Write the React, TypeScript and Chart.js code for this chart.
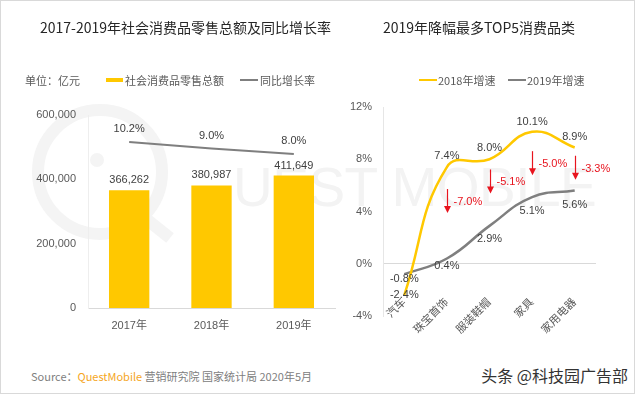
import React, { useEffect, useRef } from 'react';
import { Chart, registerables } from 'chart.js';

Chart.register(...registerables);

// ---------- data: left chart ----------
const years = ['2017年', '2018年', '2019年'];
const retailSales = [366262, 380987, 411649]; // 亿元
const growthRate = [10.2, 9.0, 8.0]; // %
const salesTicks = [0, 200000, 400000, 600000];

// ---------- data: right chart ----------
const categories = ['汽车', '珠宝首饰', '服装鞋帽', '家具', '家用电器'];
const growth2018 = [-2.4, 7.4, 8.0, 10.1, 8.9];
const growth2019 = [-0.8, 0.4, 2.9, 5.1, 5.6];
// value (in %) around which each red drop arrow is centred (null = no arrow)
const dropArrowAt: (number | null)[] = [null, 4.8, 6.3, 7.7, 7.35];
const pctTicks = [-4, 0, 4, 8, 12];

const NUM_FONT = "'Liberation Sans', 'Noto Sans CJK SC', sans-serif";
const CJK_FONT = "'Noto Sans CJK SC', 'Liberation Sans', sans-serif";
const YELLOW = '#FFC800';
const GREY = '#7F7F7F';
const RED = '#E8141E';

const leftLabels = {
  id: 'leftLabels',
  afterDatasetsDraw(chart: any) {
    const ctx = chart.ctx;
    ctx.save();
    ctx.font = `11px ${NUM_FONT}`;
    ctx.fillStyle = '#404040';
    ctx.textAlign = 'center';
    ctx.textBaseline = 'middle';
    chart.data.datasets.forEach((ds: any, di: number) => {
      const meta = chart.getDatasetMeta(di);
      meta.data.forEach((el: any, i: number) => {
        const v = ds.data[i];
        if (ds.type === 'line') ctx.fillText(v.toFixed(1) + '%', el.x, el.y - 13);
        else ctx.fillText(v.toLocaleString('en-US'), el.x, el.y - 10);
      });
    });
    ctx.restore();
  },
};

const rightLabels = {
  id: 'rightLabels',
  afterDatasetsDraw(chart: any, _args: any, opts: any) {
    const ctx = chart.ctx;
    const xs = chart.scales.x;
    const ys = chart.scales.y;
    ctx.save();
    ctx.font = `11px ${NUM_FONT}`;
    ctx.textAlign = 'center';
    ctx.textBaseline = 'middle';
    // point labels
    chart.data.datasets.forEach((ds: any, di: number) => {
      const meta = chart.getDatasetMeta(di);
      const offs = opts.offsets[di];
      ctx.fillStyle = '#404040';
      meta.data.forEach((el: any, i: number) => {
        ctx.fillText(ds.data[i].toFixed(1) + '%', el.x, el.y + offs[i]);
      });
    });
    // drop arrows
    ctx.strokeStyle = RED;
    ctx.fillStyle = RED;
    ctx.lineWidth = 1.2;
    dropArrowAt.forEach((v, i) => {
      if (v === null) return;
      const x = Math.round(xs.getPixelForValue(i)) + 0.5;
      const yc = ys.getPixelForValue(v);
      const top = yc - 12;
      const tip = yc + 12;
      ctx.beginPath();
      ctx.moveTo(x, top);
      ctx.lineTo(x, tip - 6);
      ctx.stroke();
      ctx.beginPath();
      ctx.moveTo(x - 3.5, tip - 7);
      ctx.lineTo(x + 3.5, tip - 7);
      ctx.lineTo(x, tip);
      ctx.closePath();
      ctx.fill();
      const diff = growth2019[i] - growth2018[i];
      ctx.textAlign = 'left';
      ctx.fillText(diff.toFixed(1) + '%', x + 6, yc + 1);
    });
    ctx.restore();
  },
};

const abs = (s: React.CSSProperties): React.CSSProperties => ({ position: 'absolute', whiteSpace: 'nowrap', ...s });

export default function App() {
  const leftRef = useRef<HTMLCanvasElement>(null);
  const rightRef = useRef<HTMLCanvasElement>(null);

  useEffect(() => {
    const c1 = new Chart(leftRef.current!, {
      type: 'bar',
      data: {
        labels: years,
        datasets: [
          {
            type: 'line',
            label: '同比增长率',
            data: growthRate,
            yAxisID: 'y1',
            borderColor: GREY,
            borderWidth: 2,
            pointRadius: 0,
            tension: 0,
            order: 0,
          } as any,
          {
            type: 'bar',
            label: '社会消费品零售总额',
            data: retailSales,
            yAxisID: 'y',
            backgroundColor: YELLOW,
            barPercentage: 0.49,
            categoryPercentage: 1,
            order: 1,
          } as any,
        ],
      },
      options: {
        animation: false,
        responsive: false,
        maintainAspectRatio: false,
        layout: { padding: { top: 115, right: 5, left: 0, bottom: 0 } },
        plugins: { legend: { display: false }, tooltip: { enabled: false } },
        scales: {
          x: {
            grid: { display: false, drawTicks: false },
            border: { color: '#D9D9D9' },
            ticks: { font: { size: 11, family: NUM_FONT }, color: '#595959', padding: 11, maxRotation: 0 },
            afterFit(s: any) { s.height = 32; },
          },
          y: {
            min: 0,
            max: 600000,
            afterBuildTicks(s: any) { s.ticks = salesTicks.map((v) => ({ value: v })); },
            grid: { display: false, drawTicks: false },
            border: { color: '#EEEEEE' },
            ticks: {
              font: { size: 11, family: NUM_FONT },
              color: '#595959',
              padding: 12,
              callback: (v: any) => Number(v).toLocaleString('en-US'),
            },
            afterFit(s: any) { s.width = 88; },
          },
          y1: { display: false, min: -20.2, max: 15.15 },
        },
      } as any,
      plugins: [leftLabels],
    });

    const c2 = new Chart(rightRef.current!, {
      type: 'line',
      data: {
        labels: categories,
        datasets: [
          {
            label: '2018年增速',
            data: growth2018,
            borderColor: YELLOW,
            borderWidth: 2.5,
            pointRadius: 0,
            tension: 0.45,
          },
          {
            label: '2019年增速',
            data: growth2019,
            borderColor: GREY,
            borderWidth: 2.5,
            pointRadius: 0,
            tension: 0.45,
          },
        ],
      },
      options: {
        animation: false,
        responsive: false,
        maintainAspectRatio: false,
        layout: { padding: { top: 107, right: 44, left: 0, bottom: 0 } },
        plugins: {
          legend: { display: false },
          tooltip: { enabled: false },
          rightLabels: { offsets: [[0, -11, -11, -10, -11], [5, 7, 13, 14, 14]] },
        } as any,
        scales: {
          x: {
            offset: true,
            grid: { display: false, drawTicks: false },
            border: { display: false },
            ticks: {
              font: { size: 11, family: NUM_FONT },
              color: '#595959',
              padding: -20,
              minRotation: 45,
              maxRotation: 45,
              autoSkip: false,
            },
            afterFit(s: any) {
              s.height = 24;
              // let the rotated labels rise into the plot area without being clipped
              s._computeLabelArea = () => undefined;
            },
          },
          y: {
            min: -4,
            max: 12,
            afterBuildTicks(s: any) { s.ticks = pctTicks.map((v) => ({ value: v })); },
            grid: {
              drawTicks: false,
              color: (c: any) => (c.tick && c.tick.value === 0 ? '#D9D9D9' : 'rgba(0,0,0,0)'),
            },
            border: { color: '#E6E6E6' },
            ticks: {
              font: { size: 11, family: NUM_FONT },
              color: '#595959',
              padding: 11,
              callback: (v: any) => v + '%',
            },
            afterFit(s: any) { s.width = 43; },
          },
        },
      } as any,
      plugins: [rightLabels],
    });

    return () => {
      c1.destroy();
      c2.destroy();
    };
  }, []);

  const legendText: React.CSSProperties = { fontFamily: CJK_FONT, fontSize: 11, color: '#595959', lineHeight: '16px' };

  return (
    <div style={{ position: 'absolute', left: 0, top: 0, width: 640, height: 396, background: '#fff', overflow: 'hidden' }}>
      {/* watermark */}
      <svg width={640} height={396} style={{ position: 'absolute', left: 0, top: 0 }}>
        <circle cx={100} cy={172} r={62} fill="none" stroke="#F4F4F4" strokeWidth={12} />
        <circle cx={97} cy={160} r={7} fill="#F4F4F4" />
        <line x1={140} y1={214} x2={170} y2={238} stroke="#F4F4F4" strokeWidth={12} />
      </svg>
      <div style={abs({ left: 233, top: 160, fontFamily: "'Liberation Sans', sans-serif", fontSize: 55, lineHeight: '55px', color: '#F3F3F3', letterSpacing: -0.5 })}>
        UEST MOBILE
      </div>

      {/* border */}
      <div style={abs({ left: 0, top: 0, width: 633, height: 392, border: '1px solid #D9D9D9' })} />

      {/* canvases */}
      <canvas ref={leftRef} width={340} height={340} style={{ position: 'absolute', left: 0, top: 0, width: 340, height: 340 }} />
      <canvas ref={rightRef} width={300} height={340} style={{ position: 'absolute', left: 340, top: 0, width: 300, height: 340 }} />

      {/* titles */}
      <div style={abs({ left: 40, top: 17, fontFamily: CJK_FONT, fontSize: 14, lineHeight: '20px', color: '#262626' })}>
        2017-2019年社会消费品零售总额及同比增长率
      </div>
      <div style={abs({ left: 383, top: 17, fontFamily: CJK_FONT, fontSize: 14, lineHeight: '20px', color: '#262626' })}>
        2019年降幅最多TOP5消费品类
      </div>

      {/* left legend */}
      <div style={abs({ left: 25, top: 72, ...legendText })}>单位：亿元</div>
      <div style={abs({ left: 106, top: 78, width: 17, height: 4, background: YELLOW })} />
      <div style={abs({ left: 125, top: 72, ...legendText })}>社会消费品零售总额</div>
      <div style={abs({ left: 240, top: 79, width: 18, height: 2, background: GREY })} />
      <div style={abs({ left: 260, top: 72, ...legendText })}>同比增长率</div>

      {/* right legend */}
      <div style={abs({ left: 419, top: 79, width: 18, height: 2, background: YELLOW })} />
      <div style={abs({ left: 438, top: 72, ...legendText })}>2018年增速</div>
      <div style={abs({ left: 508, top: 79, width: 18, height: 2, background: GREY })} />
      <div style={abs({ left: 527, top: 72, ...legendText })}>2019年增速</div>

      {/* footer */}
      <div style={abs({ left: 31, top: 368, fontFamily: CJK_FONT, fontSize: 11, lineHeight: '16px', color: '#808080' })}>
        Source：<span style={{ color: '#F5A623' }}>QuestMobile</span> 营销研究院 国家统计局 2020年5月
      </div>
      <div style={abs({ right: 12, top: 364, fontFamily: CJK_FONT, fontSize: 16, lineHeight: '22px', color: '#333333' })}>
        头条 @科技园广告部
      </div>
    </div>
  );
}
